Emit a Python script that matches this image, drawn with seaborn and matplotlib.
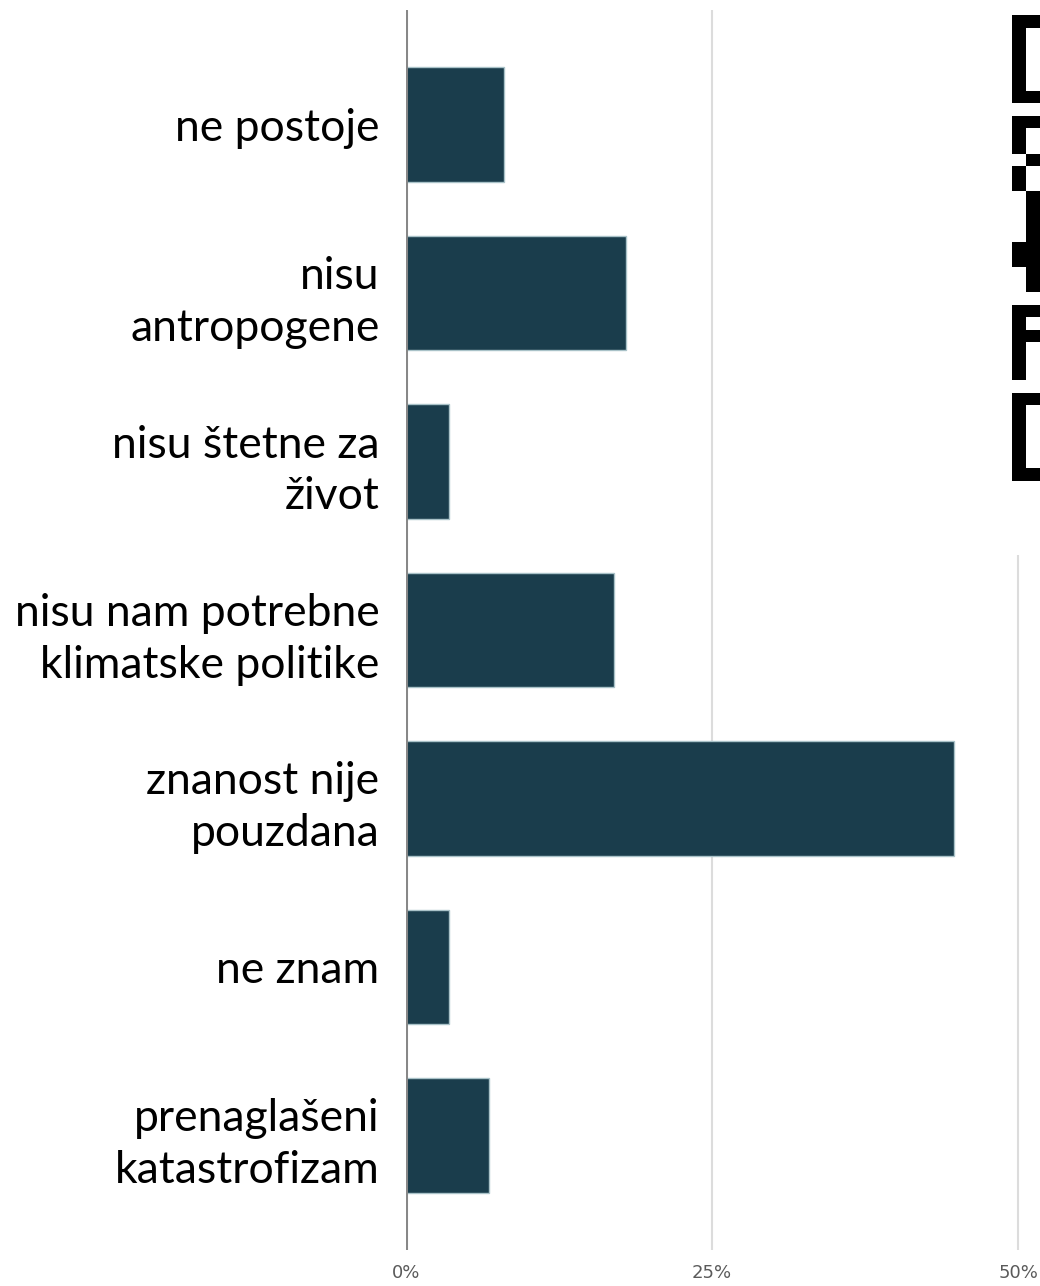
import matplotlib
matplotlib.use("Agg")
import matplotlib.pyplot as plt
import seaborn as sns
import numpy as np
import pandas as pd

categories = [
    "ne postoje",
    "nisu\nantropogene",
    "nisu štetne za\nživot",
    "nisu nam potrebne\nklimatske politike",
    "znanost nije\npouzdana",
    "ne znam",
    "prenaglašeni\nkatastrofizam",
]
values = [8.0, 18.0, 3.5, 17.0, 44.8, 3.5, 6.8]
xticks = [0, 25, 50]
xtick_labels = ["0%", "25%", "50%"]

# decorative QR-code fragment (image at top right), rows of 2 visible modules
qr_rows = (
    [[1, 1]] + [[1, 0]] * 5 + [[1, 1]] +
    [[0, 0]] + [[1, 1]] + [[1, 0]] * 2 + [[0, 1]] + [[1, 0]] * 2 +
    [[0, 1]] * 4 + [[1, 1]] * 2 + [[0, 1]] * 2 + [[0, 0]] +
    [[1, 1]] + [[1, 0]] + [[1, 1]] + [[1, 0]] * 3 + [[0, 0]] +
    [[1, 1]] + [[1, 0]] * 5 + [[1, 1]]
)

sns.set_theme(style="white")
plt.rcParams["font.family"] = ["Lato", "DejaVu Sans"]

W, H = 1040, 1286
fig = plt.figure(figsize=(W / 100, H / 100), dpi=100)
ax = fig.add_axes([406 / W, 36 / H, 634 / W, 1240 / H])

df = pd.DataFrame({"cat": categories, "val": values})
sns.barplot(data=df, x="val", y="cat", orient="h", color="#1a3d4c",
            saturation=1, width=0.68, edgecolor="#a9c2c8", linewidth=1,
            ax=ax, zorder=3)

ax.set_xlim(0, 50 * 634 / 612)
ax.set_ylim(6.68, -0.68)
ax.set_xticks(xticks)
ax.set_xticklabels(xtick_labels, fontsize=13, color="#5a5a5a",
                   family=["DejaVu Sans"])
ax.tick_params(axis="x", length=0, pad=10)
ax.tick_params(axis="y", length=0, pad=19, labelsize=32, labelcolor="#000000")
for lab in ax.get_yticklabels():
    lab.set_multialignment("right")
    lab.set_linespacing(1.32)
ax.set_xlabel("")
ax.set_ylabel("")
for x in xticks[1:]:
    ax.axvline(x, color="#dcdcdc", lw=1.5, zorder=1)
ax.axvline(0, color="#888888", lw=2.2, zorder=4)
for s in ax.spines.values():
    s.set_visible(False)

# QR fragment overlay
qax = fig.add_axes([990 / W, (H - 555) / H, 50 / W, 555 / H])
qax.set_facecolor("white")
img = 1 - np.array(qr_rows, dtype=float)
qax.imshow(img, cmap="gray", vmin=0, vmax=1, interpolation="nearest",
           extent=(1012, 1040, 481, 15), aspect="auto")
qax.set_xlim(990, 1040)
qax.set_ylim(555, 0)
qax.axis("off")
qax.add_patch(plt.Rectangle((990, 0), 50, 555, color="white", zorder=-1))

fig.savefig("out.png", dpi=100, facecolor="white")
